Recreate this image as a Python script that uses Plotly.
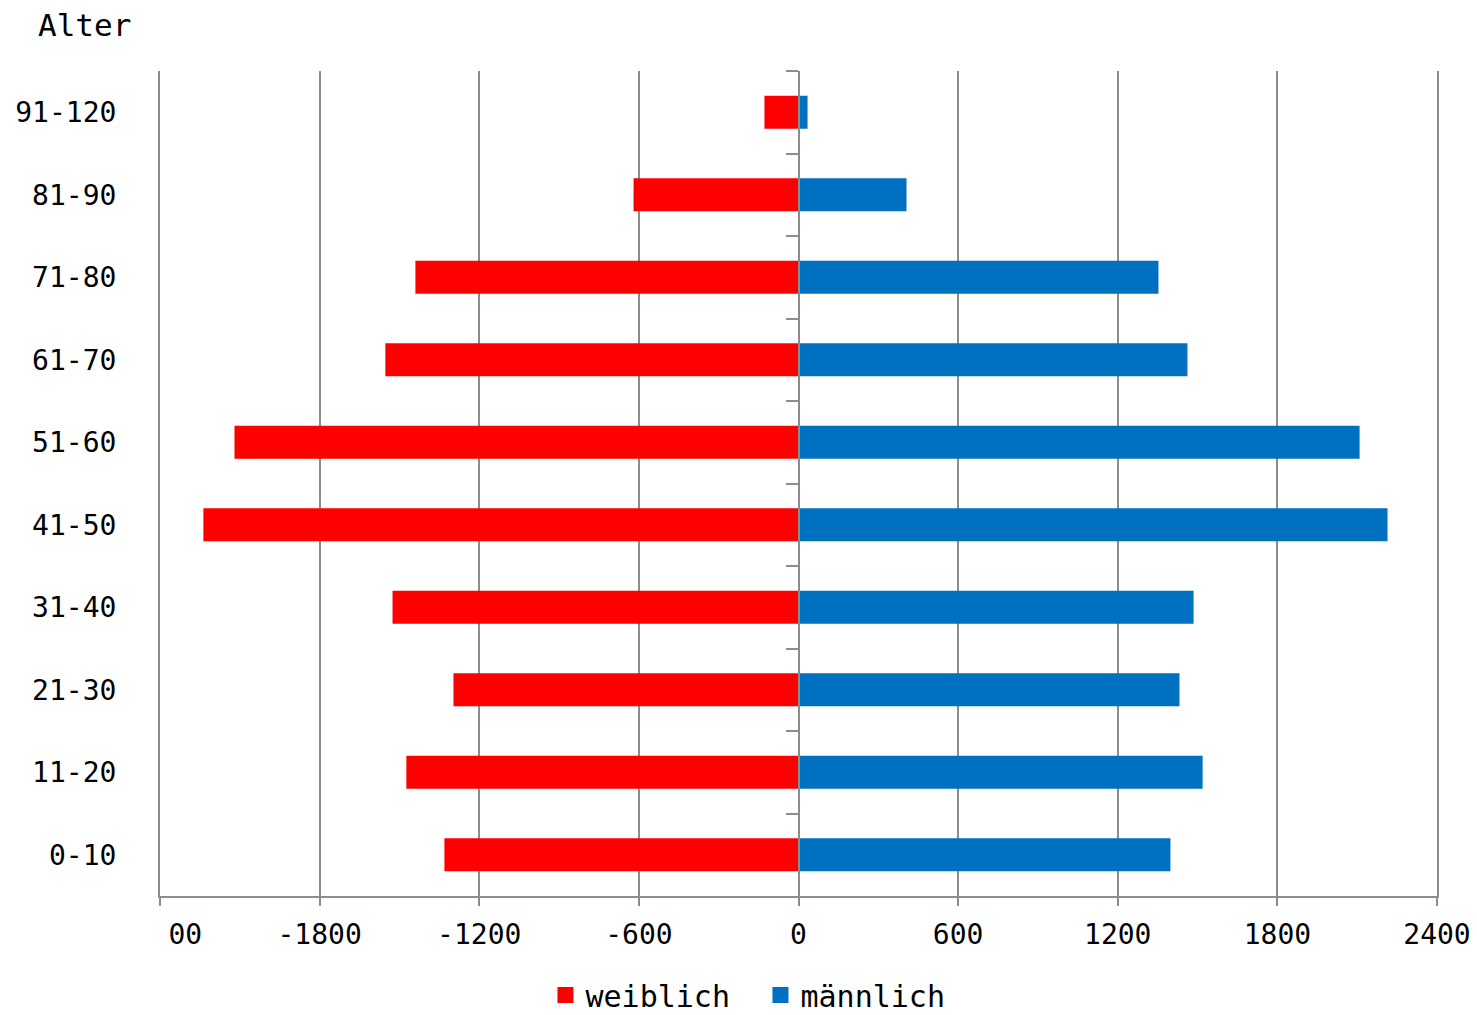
import plotly.graph_objects as go

# Altersgruppen (unten -> oben)
age_groups = ["0-10", "11-20", "21-30", "31-40", "41-50",
              "51-60", "61-70", "71-80", "81-90", "91-120"]
weiblich = [1331, 1474, 1297, 1526, 2237, 2120, 1553, 1440, 620, 128]
maennlich = [1398, 1519, 1432, 1485, 2214, 2109, 1462, 1353, 406, 34]

x_ticks = [-2400, -1800, -1200, -600, 0, 600, 1200, 1800, 2400]
x_ticktext = ["\u00a0\u00a0\u00a000", "-1800", "-1200", "-600", "0",
              "600", "1200", "1800", "2400"]

RED = "#FF0000"
BLUE = "#0070C0"
GRID = "#8C8C8C"
FONT = "DejaVu Sans Mono"

fig = go.Figure()

# Frauen nach links (negativ), Männer nach rechts
fig.add_trace(go.Bar(
    y=age_groups, x=[-v for v in weiblich], orientation="h",
    marker=dict(color=RED, line=dict(width=0)), name="weiblich",
    showlegend=False,
))
fig.add_trace(go.Bar(
    y=age_groups, x=maennlich, orientation="h",
    marker=dict(color=BLUE, line=dict(width=0)), name="männlich",
    showlegend=False,
))

# Legendeneinträge mit größeren Quadraten
for name, col in [("weiblich", RED), ("männlich", BLUE)]:
    fig.add_trace(go.Scatter(
        x=[None], y=[None], mode="markers", name=name,
        marker=dict(symbol="square", size=20, color=col),
    ))

# Mittelachse bei 0 mit Teilstrichen zwischen den Kategorien
fig.add_trace(go.Scatter(
    x=[None], y=[None], yaxis="y2", showlegend=False, hoverinfo="skip",
))

fig.update_layout(
    width=1477, height=1015,
    margin=dict(l=160, r=40, t=71, b=119, autoexpand=False),
    paper_bgcolor="white", plot_bgcolor="white",
    barmode="relative", bargap=0.6,
    font=dict(family=FONT, size=28, color="black"),
    title=dict(text="Alter", x=38 / 1477, xanchor="left",
               y=1 - 25 / 1015, yanchor="middle",
               font=dict(family=FONT, size=31, color="black")),
    xaxis=dict(
        range=[-2400, 2400], tickvals=x_ticks, ticktext=x_ticktext,
        showgrid=True, gridcolor=GRID, gridwidth=2,
        zeroline=False,
        showline=True, linecolor=GRID, linewidth=2,
        ticks="outside", ticklen=8, tickwidth=2, tickcolor=GRID,
        ticklabelstandoff=4,
        tickfont=dict(family=FONT, size=28, color="black"),
    ),
    yaxis=dict(
        type="category", categoryorder="array", categoryarray=age_groups,
        range=[-0.5, 9.5],
        showgrid=False, zeroline=False,
        showline=True, mirror=True, linecolor=GRID, linewidth=2,
        ticks="", ticklabelstandoff=36,
        tickfont=dict(family=FONT, size=28, color="black"),
    ),
    yaxis2=dict(
        overlaying="y", anchor="free", position=0.5, side="left",
        range=[-0.5, 9.5],
        tickvals=[i + 0.5 for i in range(len(age_groups))],
        showticklabels=False, showgrid=False, zeroline=False,
        showline=True, linecolor=GRID, linewidth=2,
        ticks="outside", ticklen=12, tickwidth=2, tickcolor=GRID,
    ),
    legend=dict(
        orientation="h", x=0.4702, xanchor="center",
        y=-0.12, yanchor="middle", entrywidth=170,
        font=dict(family=FONT, size=30, color="black"),
        itemsizing="trace", traceorder="normal",
    ),
)

fig.write_html("out.html")
